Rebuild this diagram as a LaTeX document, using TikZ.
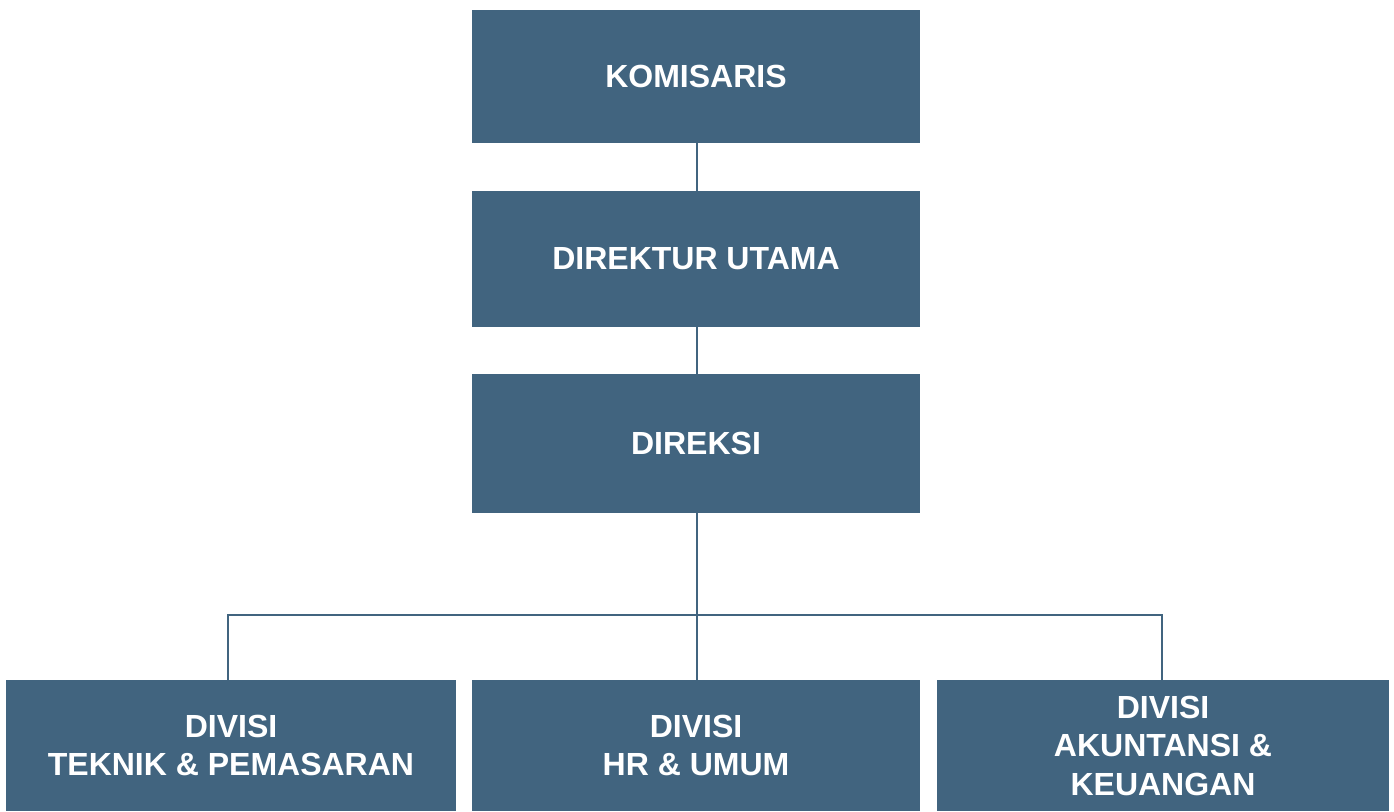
\documentclass[tikz,border=0pt]{standalone}
\usepackage{fontspec}
\setmainfont{Liberation Sans}
\usepackage{tikz}
\usetikzlibrary{positioning}
\definecolor{boxblue}{HTML}{41647F}

\begin{document}
\begin{tikzpicture}[
        x=1pt, y=-1pt,
        unit/.style={
            rectangle,
            fill=boxblue,
            text=white,
            font=\fontsize{32}{38.5}\selectfont\bfseries,
            align=center,
            inner sep=0pt,
            minimum width=448pt,
            minimum height=133pt
        },
        division/.style={
            unit,
            minimum height=131pt
        },
        link/.style={draw=boxblue, line width=2pt}
    ]
        \useasboundingbox (0,0) rectangle (1394,811);

        % Top nodes
        \node[unit] (komisaris) at (696,76.5) {KOMISARIS};
        \node[unit, minimum height=136pt] (dirut) at (696,259) {DIREKTUR UTAMA};
        \node[unit, minimum height=139pt] (direksi) at (696,443.5) {DIREKSI};

        % Division nodes
        \node[division, minimum width=450pt] (teknik) at (231,745.5) {DIVISI\\TEKNIK \& PEMASARAN};
        \node[division] (hr) at (696,745.5) {DIVISI\\HR \& UMUM};
        \node[division, minimum width=452pt] (akuntansi) at (1163,745.5) {DIVISI\\AKUNTANSI \&\\KEUANGAN};

        \coordinate (bus) at (697,615);

        % Lines
        \draw[link] ([xshift=1pt]komisaris.south) -- ([xshift=1pt]dirut.north);
        \draw[link] ([xshift=1pt]dirut.south) -- ([xshift=1pt]direksi.north);
        \draw[link] ([xshift=1pt]direksi.south) -- ([xshift=1pt]hr.north);
        \draw[link] ([xshift=-3pt]teknik.north) |- (bus) -| ([xshift=-1pt]akuntansi.north);

    \end{tikzpicture}
\end{document}
